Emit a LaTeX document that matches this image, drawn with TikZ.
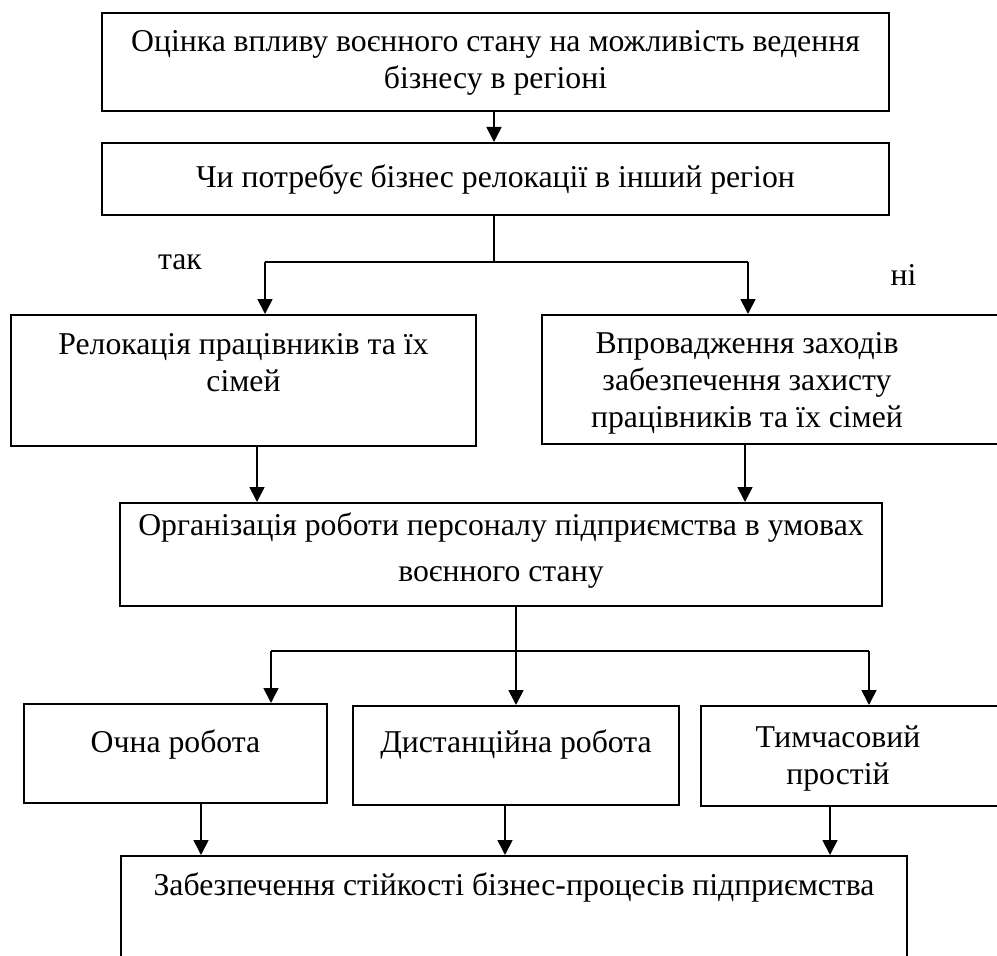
\documentclass[tikz,border=0pt]{standalone}
\usepackage{fontspec}
\setmainfont{Liberation Serif}
\usetikzlibrary{arrows.meta}
\newcommand{\BoxF}{\fontsize{23.8}{27.75}\selectfont}

\tikzset{
  box/.style={draw, line width=1.3pt, anchor=north, inner xsep=0pt, inner ysep=0pt,
              align=flush center, font=\BoxF},
  link/.style={line width=1.3pt},
  stem/.style={line width=0.9pt},
  arr/.style={link, -{Triangle[length=11.25pt, width=11.25pt]}},
  tag/.style={font=\BoxF, inner sep=0pt}
}

\begin{document}
\begin{tikzpicture}[x=0.75pt, y=-0.75pt]
  \useasboundingbox (0,0) rectangle (997,956);
  \clip (0,0) rectangle (997,956);

  \node[box, text width=590.25pt, text height=29.25pt, text depth=44.25pt] (b1) at (495.5,12)
    {Оцінка впливу воєнного стану на можливість ведення\\ бізнесу в регіоні};
  \node[box, text width=590.25pt, text height=33.75pt, text depth=20.25pt] (b2) at (495.5,142)
    {Чи потребує бізнес релокації в інший регіон};
  \node[box, text width=348.75pt, text height=30pt, text depth=68.25pt] (b3) at (243.5,314)
    {Релокація працівників та їх\\ сімей};
  \node[box, text width=347.25pt, align=flush left, text height=29.25pt, text depth=67.5pt] (b4) at (773.5,314)
    {\parbox[t]{307.5pt}{\centering Впровадження заходів\\ забезпечення захисту\\ працівників та їх сімей}};
  \node[box, text width=571.5pt, text height=24.75pt, text depth=52.5pt] (b5) at (501,502)
    {Організація роботи персоналу підприємства в умовах\\[6.75pt] воєнного стану};
  \node[box, text width=227.25pt, text height=36.75pt, text depth=37.5pt] (b6) at (175.5,703)
    {Очна робота};
  \node[box, text width=244.5pt, text height=35.25pt, text depth=39pt] (b7) at (516,705)
    {Дистанційна робота};
  \node[box, text width=228pt, align=flush left, text height=31.5pt, text depth=43.5pt] (b8) at (853,705)
    {\parbox[t]{205.5pt}{\centering Тимчасовий\\ простій}};
  \node[box, text width=589.5pt, text height=30pt, text depth=86.25pt] (b9) at (514,855)
    {Забезпечення стійкості бізнес-процесів підприємства};

  \node[tag] (lyes) at (180,262) {так};
  \node[tag] (lno) at (903.5,275) {ні};

  \coordinate (fork1) at (494,262);
  \coordinate (yes) at (265,262);
  \coordinate (no) at (748,262);
  \coordinate (fork2) at (516,651);
  \coordinate (to6) at (271,651);
  \coordinate (to8) at (869,651);
  \coordinate (c3) at (257,0);
  \coordinate (c4) at (745,0);
  \coordinate (c6) at (201,0);
  \coordinate (c7) at (505,0);
  \coordinate (c8) at (830,0);

  \draw[arr] (b1.south -| fork1) -- (b2.north -| fork1);
  \draw[stem] (b2.south -| fork1) -- (fork1);
  \draw[link] (yes) -- (no);
  \draw[arr] (yes) -- (yes |- b3.north);
  \draw[arr] (no) -- (no |- b4.north);

  \draw[arr] (b3.south -| c3) -- (b5.north -| c3);
  \draw[arr] (b4.south -| c4) -- (b5.north -| c4);

  \draw[stem] (b5.south -| fork2) -- (fork2);
  \draw[link] (to6) -- (to8);
  \draw[arr] (to6) -- (to6 |- b6.north);
  \draw[arr] (fork2) -- (fork2 |- b7.north);
  \draw[arr] (to8) -- (to8 |- b8.north);

  \foreach \src/\col in {b6/c6, b7/c7, b8/c8}
    \draw[arr] (\src.south -| \col) -- (b9.north -| \col);
\end{tikzpicture}
\end{document}
